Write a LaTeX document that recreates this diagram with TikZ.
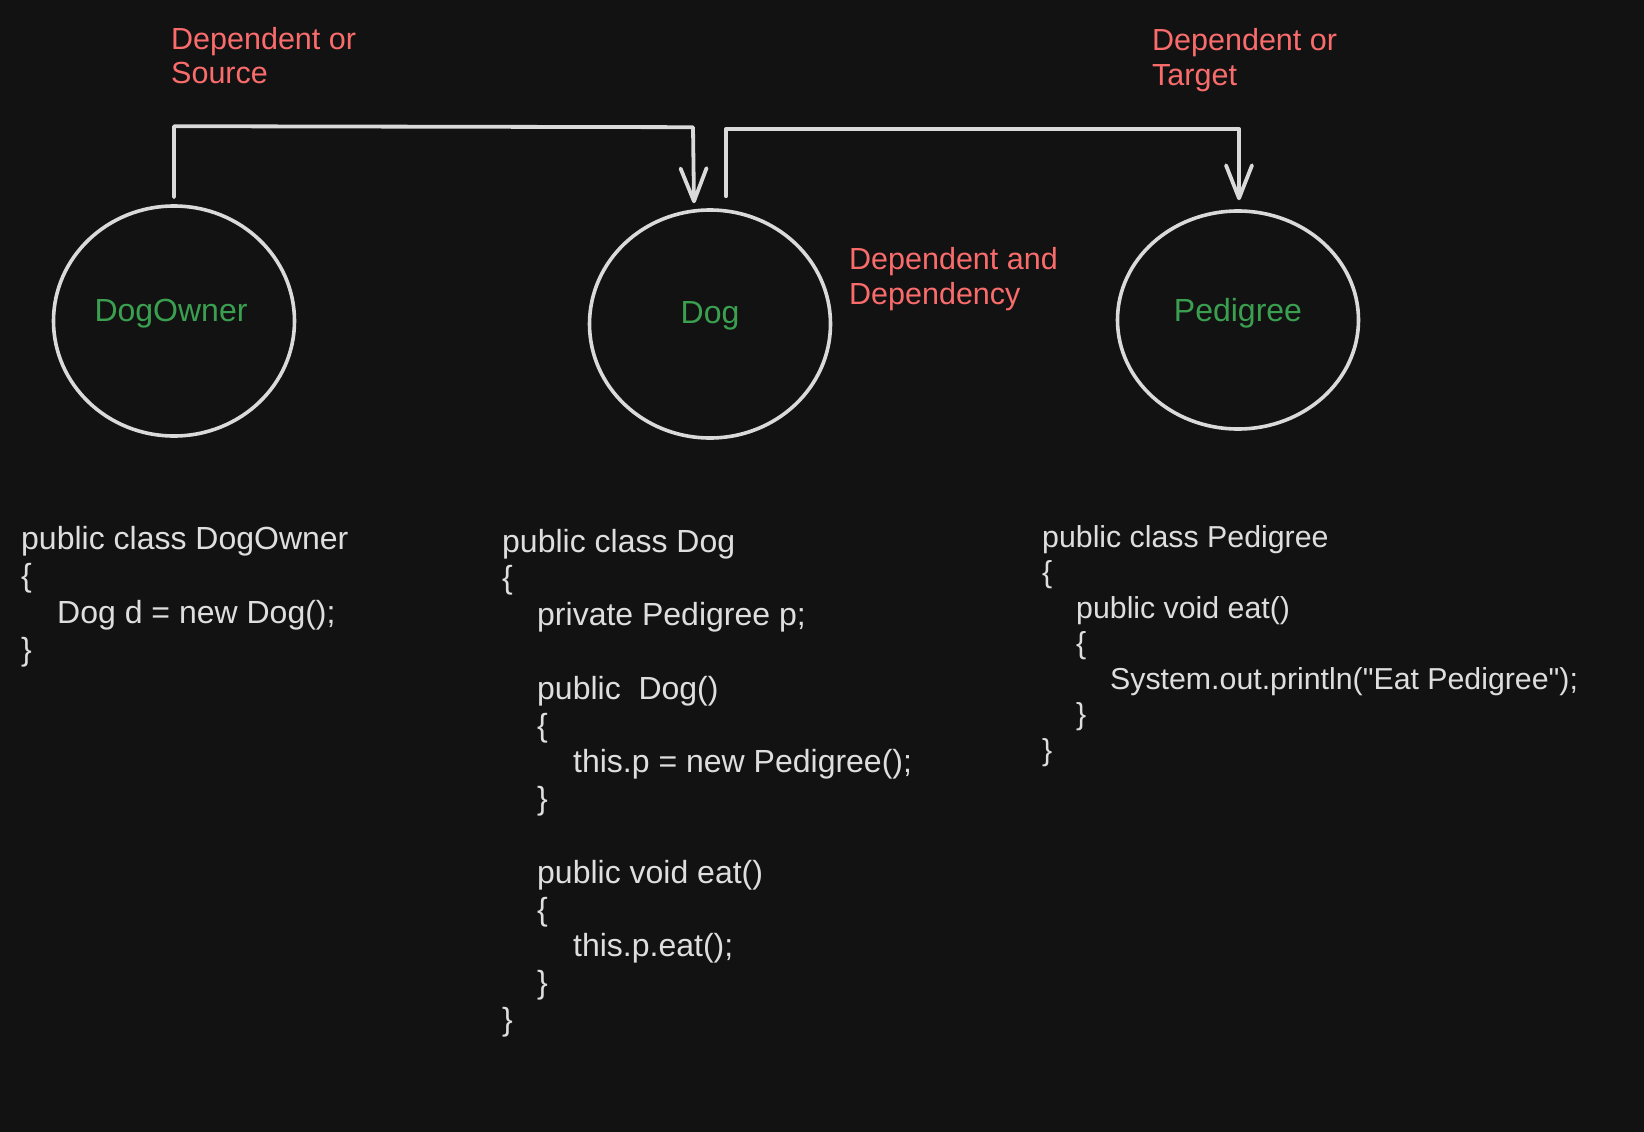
\documentclass[tikz,border=0pt]{standalone}
\usepackage{fontspec}
\setmainfont{Liberation Sans}[Ligatures=TeXOff]
\usetikzlibrary{shapes.geometric,arrows.meta,calc}
\definecolor{bgc}{RGB}{18,18,18}
\definecolor{strokec}{RGB}{218,218,218}
\definecolor{codec}{RGB}{222,222,222}
\definecolor{redc}{RGB}{250,108,108}
\definecolor{greenc}{RGB}{58,160,80}
\tikzset{
  circ/.style={ellipse,draw=strokec,line width=3.6pt,inner sep=0pt,minimum width=241pt},
  namelbl/.style={anchor=base,text=greenc,inner sep=0pt,font=\fontsize{32}{38}\selectfont},
  note/.style={anchor=base west,text=redc,inner sep=0pt,font=\fontsize{30.5}{35}\selectfont},
  code/.style={anchor=base west,text=codec,inner sep=0pt,font=\fontsize{32}{38}\selectfont},
  codesm/.style={anchor=base west,text=codec,inner sep=0pt,font=\fontsize{30.3}{36}\selectfont},
  conn/.style={draw=strokec,line width=3.8pt,line cap=round,line join=round},
  arr/.style={-{Straight Barb[length=33pt,width=26pt,line cap=round,line join=round]}}
}
\begin{document}
\begin{tikzpicture}[x=1pt,y=-1pt]
\useasboundingbox (0,0) rectangle (1644,1132);
\fill[bgc] (0,0) rectangle (1644,1132);

% circles
\node[circ,minimum height=230pt] (own) at (174,321) {};
\node[circ,minimum height=228pt] (dog) at (710,324) {};
\node[circ,minimum height=218pt] (ped) at (1238,320) {};

\node[namelbl] (ownl) at (171,321) {DogOwner};
\node[namelbl] (dogl) at (710,323) {Dog};
\node[namelbl] (pedl) at (1238,321) {Pedigree};

% notes
\node[note] (n1a) at (171,49) {Dependent or};
\node[note] (n1b) at (171,84) {Source};
\node[note] (n2a) at (1152,51) {Dependent or};
\node[note] (n2b) at (1152,85) {Target};
\node[note] (n3a) at (849,269) {Dependent and};
\node[note] (n3b) at (849,304) {Dependency};

% connectors
\coordinate (s1) at ($(own.north)+(0,-7)$);
\coordinate (e1) at ($(dog.north)+(-16,-5)$);
\draw[conn,arr] (s1) -- ++(0,-71) -- ($(e1)+(-1,-76)$) -- (e1);
\coordinate (s2) at ($(dog.north)+(16,-12)$);
\coordinate (e2) at ($(ped.north)+(1,-9)$);
\draw[conn,arr] (s2) |- ($(e2)+(0,-71)$) -- (e2);

% DogOwner code
\node[code] (o0) at (21,549) {public class DogOwner};
\node[code] (o1) at (21,586) {\{};
\node[code] (o2) at (57,623) {Dog d = new Dog();};
\node[code] (o3) at (21,660) {\}};

% Dog code
\node[code] (d0) at (502,552) {public class Dog};
\node[code] (d1) at (502,588.8) {\{};
\node[code] (d2) at (537,625.6) {private Pedigree p;};
\node[code] (d4) at (537,699.2) {public\ \ Dog()};
\node[code] (d5) at (537,736) {\{};
\node[code] (d6) at (573,772.8) {this.p = new Pedigree();};
\node[code] (d7) at (537,809.6) {\}};
\node[code] (d9) at (537,883.2) {public void eat()};
\node[code] (d10) at (537,920) {\{};
\node[code] (d11) at (573,956.8) {this.p.eat();};
\node[code] (d12) at (537,993.6) {\}};
\node[code] (d13) at (502,1030.4) {\}};

% Pedigree code
\node[codesm] (p0) at (1042,547) {public class Pedigree};
\node[codesm] (p1) at (1042,582.5) {\{};
\node[codesm] (p2) at (1076,618) {public void eat()};
\node[codesm] (p3) at (1076,653.5) {\{};
\node[codesm] (p4) at (1110,689) {System.out.println("Eat Pedigree");};
\node[codesm] (p5) at (1076,724.5) {\}};
\node[codesm] (p6) at (1042,760) {\}};
\end{tikzpicture}
\end{document}
